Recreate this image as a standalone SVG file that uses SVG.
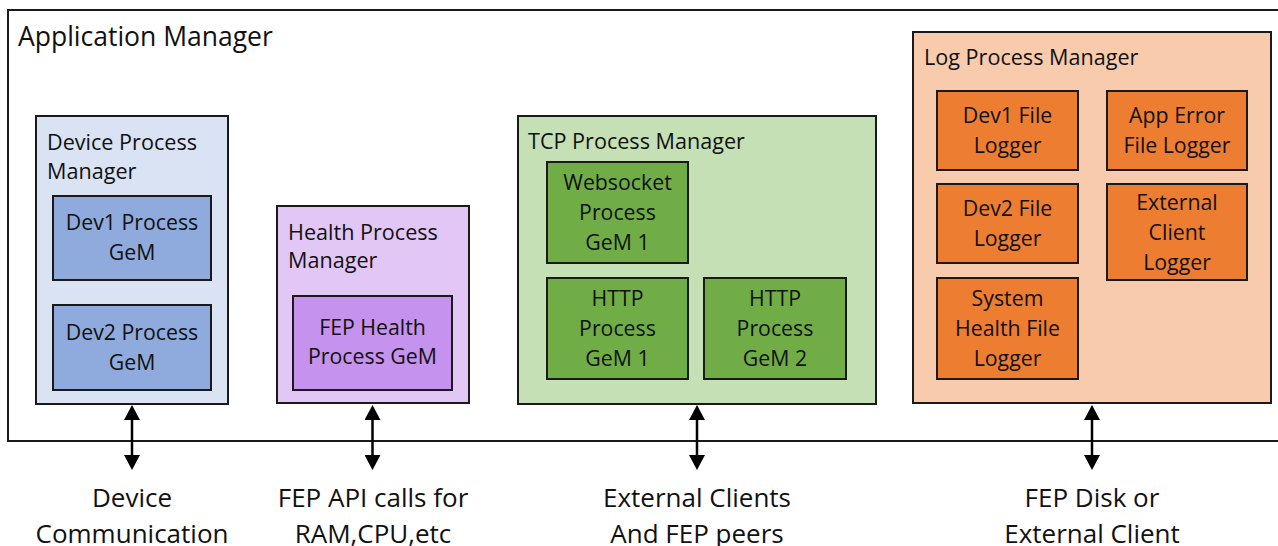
<svg xmlns="http://www.w3.org/2000/svg" width="1278" height="546" viewBox="0 0 1278 546">
  <style>
    text { font-family: "Open Sans", "Noto Sans", sans-serif; fill: #111; }
    .box { stroke: #1a1a1a; stroke-width: 2; }
    .title { font-size: 26.5px; }
    .label { font-size: 21.6px; }
    .inner { font-size: 21.3px; text-anchor: middle; }
    .ext { font-size: 26px; text-anchor: middle; }
    .dev-o { fill: #dae3f3; } .dev-i { fill: #8faadc; }
    .hl-o { fill: #e1c6f6; } .hl-i { fill: #c592ee; }
    .tcp-o { fill: #c5e0b4; } .tcp-i { fill: #70ad47; }
    .log-o { fill: #f8cbad; } .log-i { fill: #ed7d31; }
    .link { stroke: #000; stroke-width: 2.5; fill: none; marker-start: url(#head); marker-end: url(#head); }
  </style>
  <defs>
    <marker id="head" markerUnits="userSpaceOnUse" markerWidth="16" markerHeight="16" viewBox="0 0 15 16" refX="10" refY="8" orient="auto-start-reverse">
      <path d="M0,0 L15,8 L0,16 Z" fill="#000"/>
    </marker>
  </defs>

  <rect width="1278" height="546" fill="#fff"/>

  <g id="application-manager">
    <rect class="box" x="8" y="10" width="1300" height="431" fill="#fff"/>
    <text class="title" x="18" y="46">Application Manager</text>
  </g>

  <g id="device-process-manager">
    <rect class="box dev-o" x="36" y="116" width="192" height="288"/>
    <text class="label" x="47" y="150">Device Process</text>
    <text class="label" x="47" y="179">Manager</text>
  </g>
  <g id="dev1-process-gem">
    <rect class="box dev-i" x="53" y="196" width="158" height="84"/>
    <text class="inner" x="132" y="230">Dev1 Process</text>
    <text class="inner" x="132" y="260">GeM</text>
  </g>
  <g id="dev2-process-gem">
    <rect class="box dev-i" x="53" y="305" width="158" height="85"/>
    <text class="inner" x="132" y="340">Dev2 Process</text>
    <text class="inner" x="132" y="370">GeM</text>
  </g>

  <g id="health-process-manager">
    <rect class="box hl-o" x="277" y="206" width="192" height="197"/>
    <text class="label" x="288" y="240">Health Process</text>
    <text class="label" x="288" y="268">Manager</text>
  </g>
  <g id="fep-health-process-gem">
    <rect class="box hl-i" x="293" y="296" width="159" height="94"/>
    <text class="inner" x="372.5" y="335">FEP Health</text>
    <text class="inner" x="372.5" y="364">Process GeM</text>
  </g>

  <g id="tcp-process-manager">
    <rect class="box tcp-o" x="518" y="116" width="358" height="288"/>
    <text class="label" x="528" y="149">TCP Process Manager</text>
  </g>
  <g id="websocket-process-gem-1">
    <rect class="box tcp-i" x="547" y="162" width="141" height="101"/>
    <text class="inner" x="617.5" y="190">Websocket</text>
    <text class="inner" x="617.5" y="220">Process</text>
    <text class="inner" x="617.5" y="250">GeM 1</text>
  </g>
  <g id="http-process-gem-1">
    <rect class="box tcp-i" x="547" y="278" width="141" height="101"/>
    <text class="inner" x="617.5" y="306">HTTP</text>
    <text class="inner" x="617.5" y="336">Process</text>
    <text class="inner" x="617.5" y="366">GeM 1</text>
  </g>
  <g id="http-process-gem-2">
    <rect class="box tcp-i" x="704" y="278" width="142" height="101"/>
    <text class="inner" x="775" y="306">HTTP</text>
    <text class="inner" x="775" y="336">Process</text>
    <text class="inner" x="775" y="366">GeM 2</text>
  </g>

  <g id="log-process-manager">
    <rect class="box log-o" x="913" y="32" width="358" height="371"/>
    <text class="label" x="924" y="65">Log Process Manager</text>
  </g>
  <g id="dev1-file-logger">
    <rect class="box log-i" x="937" y="91" width="141" height="79"/>
    <text class="inner" x="1007.5" y="123">Dev1 File</text>
    <text class="inner" x="1007.5" y="153">Logger</text>
  </g>
  <g id="app-error-file-logger">
    <rect class="box log-i" x="1107" y="91" width="140" height="79"/>
    <text class="inner" x="1177" y="123">App Error</text>
    <text class="inner" x="1177" y="153">File Logger</text>
  </g>
  <g id="dev2-file-logger">
    <rect class="box log-i" x="937" y="184" width="141" height="79"/>
    <text class="inner" x="1007.5" y="216">Dev2 File</text>
    <text class="inner" x="1007.5" y="246">Logger</text>
  </g>
  <g id="external-client-logger">
    <rect class="box log-i" x="1107" y="184" width="140" height="96"/>
    <text class="inner" x="1177" y="210">External</text>
    <text class="inner" x="1177" y="240">Client</text>
    <text class="inner" x="1177" y="270">Logger</text>
  </g>
  <g id="system-health-file-logger">
    <rect class="box log-i" x="937" y="278" width="141" height="101"/>
    <text class="inner" x="1007.5" y="306">System</text>
    <text class="inner" x="1007.5" y="336">Health File</text>
    <text class="inner" x="1007.5" y="366">Logger</text>
  </g>

  <g id="connectors">
    <line class="link" x1="132" y1="410" x2="132" y2="465"/>
    <line class="link" x1="372.5" y1="410" x2="372.5" y2="465"/>
    <line class="link" x1="697" y1="410" x2="697" y2="465"/>
    <line class="link" x1="1092" y1="410" x2="1092" y2="465"/>
  </g>

  <g id="device-communication">
    <text class="ext" x="132" y="507">Device</text>
    <text class="ext" x="132" y="543">Communication</text>
  </g>
  <g id="fep-api-calls">
    <text class="ext" x="373" y="507">FEP API calls for</text>
    <text class="ext" x="373" y="543">RAM,CPU,etc</text>
  </g>
  <g id="external-clients">
    <text class="ext" x="697" y="507">External Clients</text>
    <text class="ext" x="697" y="543">And FEP peers</text>
  </g>
  <g id="fep-disk">
    <text class="ext" x="1092" y="507">FEP Disk or</text>
    <text class="ext" x="1092" y="543">External Client</text>
  </g>
</svg>
